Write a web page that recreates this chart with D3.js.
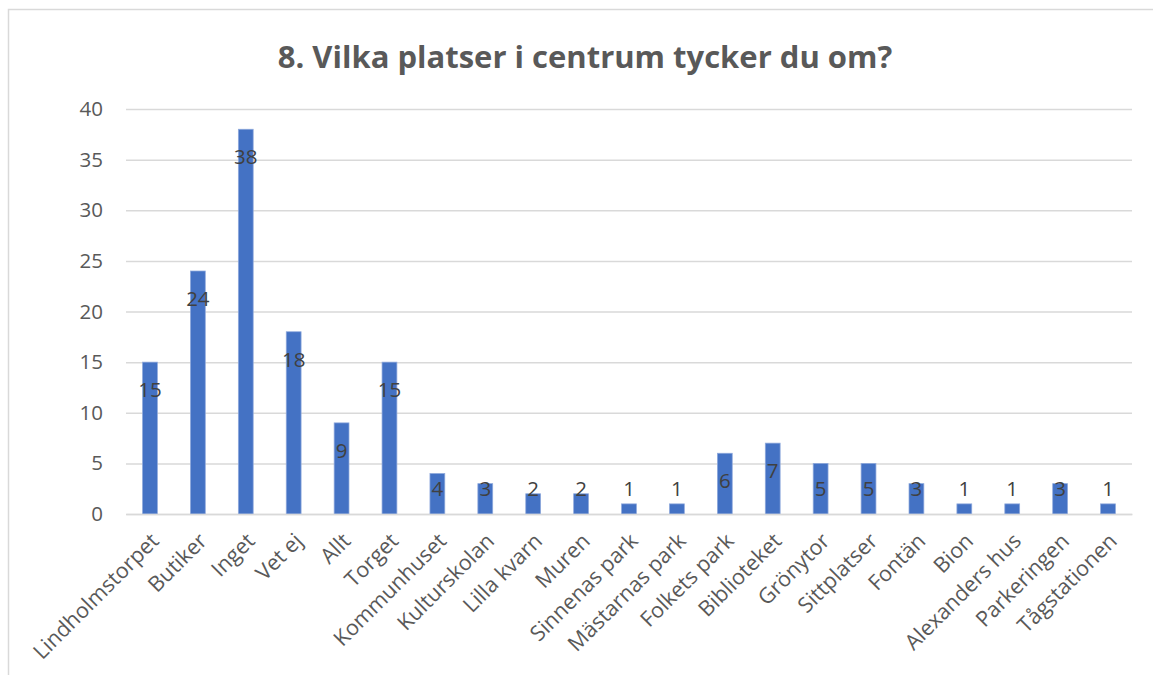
<!DOCTYPE html>
<html><head><meta charset="utf-8">
<script src="https://cdn.jsdelivr.net/npm/d3@7"></script>
<style>
html,body{margin:0;padding:0;background:#fff;}
svg{display:block;}
</style></head>
<body>
<svg id="chart" width="1153" height="675"></svg>
<script>
const title = "8. Vilka platser i centrum tycker du om?";
const categories = ["Lindholmstorpet","Butiker","Inget","Vet ej","Allt","Torget","Kommunhuset","Kulturskolan","Lilla kvarn","Muren","Sinnenas park","Mästarnas park","Folkets park","Biblioteket","Grönytor","Sittplatser","Fontän","Bion","Alexanders hus","Parkeringen","Tågstationen"];
const values = [15,24,38,18,9,15,4,3,2,2,1,1,6,7,5,5,3,1,1,3,1];
const yTicks = [0,5,10,15,20,25,30,35,40];

const W = 1153, H = 675;
const font = "'Open Sans', sans-serif";
const svg = d3.select("#chart");

// chart frame
svg.append("rect").attr("x",8.5).attr("y",9.5).attr("width",W).attr("height",H)
  .attr("fill","#fff").attr("stroke","#d9d9d9").attr("stroke-width",1.5);

const pL = 126, pR = 1132, pT = 109, pB = 514;
const x = d3.scaleBand().domain(categories).range([pL,pR]).paddingInner(0.69).paddingOuter(0.345);
const y = d3.scaleLinear().domain([0,40]).range([pB,pT]);

// title
svg.append("text").attr("x",585).attr("y",68).attr("text-anchor","middle")
  .attr("font-family",font).attr("font-weight","bold").attr("font-size",31)
  .attr("fill","#595959").text(title);

// gridlines
const yAxis = d3.axisLeft(y).tickValues(yTicks).tickSize(-(pR-pL)).tickPadding(23);
const gy = svg.append("g").attr("transform",`translate(${pL},0)`).call(yAxis);
gy.select(".domain").remove();
gy.selectAll(".tick line").attr("stroke","#d9d9d9").attr("stroke-width",1.5);
gy.selectAll(".tick text").attr("font-family",font).attr("font-size",20.5).attr("fill","#595959");

// bars
svg.append("g").selectAll("rect").data(values).join("rect")
  .attr("x",(d,i)=>x(categories[i]))
  .attr("y",d=>y(d))
  .attr("width",x.bandwidth())
  .attr("height",d=>pB-y(d))
  .attr("fill","#4472C4")
  .attr("stroke","#8fa9dc").attr("stroke-width",0.75);

// x axis
const xAxis = d3.axisBottom(x).tickSize(0).tickPadding(0);
const gx = svg.append("g").attr("transform",`translate(0,${pB})`).call(xAxis);
gx.select(".domain").attr("stroke","#d9d9d9").attr("stroke-width",1.5);
gx.selectAll(".tick text")
  .attr("font-family",font).attr("font-size",21.5).attr("fill","#595959")
  .attr("text-anchor","end")
  .attr("transform","translate(5,23) rotate(-45)")
  .attr("dy","0.35em");

// data labels
const minLabelY = y(2.5);
svg.append("g").selectAll("text").data(values).join("text")
  .attr("x",(d,i)=>x(categories[i])+x.bandwidth()/2)
  .attr("y",d=>Math.min(y(d)+28, minLabelY))
  .attr("dy","0.35em")
  .attr("text-anchor","middle")
  .attr("font-family",font).attr("font-size",20.5).attr("fill","#404040")
  .text(d=>d);
</script>
</body></html>
